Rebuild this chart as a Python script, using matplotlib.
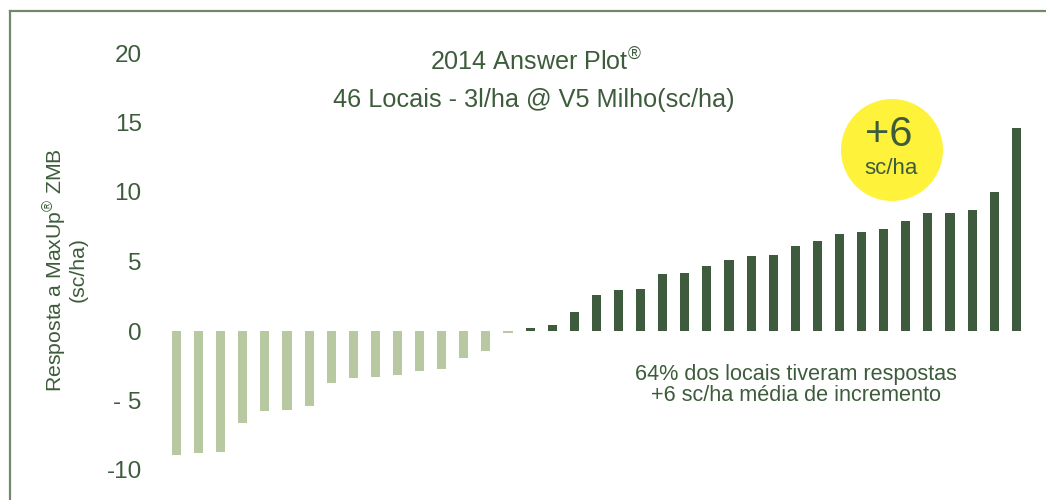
import matplotlib
matplotlib.use("Agg")
import matplotlib.pyplot as plt
from matplotlib.lines import Line2D
from matplotlib.patches import Ellipse

# responses per site (sc/ha), sorted
negatives = [-8.9, -8.8, -8.7, -6.6, -5.75, -5.7, -5.4, -3.75, -3.4, -3.3,
             -3.2, -2.9, -2.7, -1.95, -1.45, -0.15]
positives = [0.2, 0.43, 1.4, 2.56, 2.92, 3.02, 4.07, 4.15, 4.65, 5.08,
             5.4, 5.45, 6.14, 6.47, 6.95, 7.14, 7.36, 7.89, 8.47, 8.51,
             8.68, 10.0, 14.6]
yticks = [20, 15, 10, 5, 0, -5, -10]
ytick_labels = ["20", "15", "10", "5", "0", "- 5", "-10"]

DARK = "#3e5c3d"
LIGHT = "#b8c8a1"
TEXT = "#3d5c3b"
FRAME = "#71896a"
YELLOW = "#fef23b"

FONT = "Liberation Sans"
plt.rcParams["font.family"] = [FONT, "DejaVu Sans"]
plt.rcParams["mathtext.fontset"] = "custom"
plt.rcParams["mathtext.rm"] = FONT
plt.rcParams["mathtext.it"] = FONT
plt.rcParams["mathtext.bf"] = FONT

W, H = 1046, 500
fig = plt.figure(figsize=(W / 100, H / 100), dpi=100)
renderer = fig.canvas.get_renderer()


def fit(t, target, vertical=False):
    # scale the font so the text spans about `target` pixels
    bb = t.get_window_extent(renderer)
    size = bb.height if vertical else bb.width
    t.set_fontsize(t.get_fontsize() * target / size)
    return t


# axes placed so the bar grid lines up with the reference pixels
ax_left = 150
ax = fig.add_axes([ax_left / W, 0, 1 - ax_left / W, 1])
step, x0 = 22.1, 176.5
ax.set_xlim((ax_left - x0) / step, (W - x0) / step)
zero_px, unit = 331, 13.9
ax.set_ylim(-(H - zero_px) / unit, zero_px / unit)

vals = negatives + positives
cols = [LIGHT] * len(negatives) + [DARK] * len(positives)
ax.bar(range(len(vals)), vals, width=0.41, color=cols)

ax.set_yticks(yticks)
ax.set_yticklabels(ytick_labels, fontsize=17.5, color=TEXT)
ax.tick_params(axis="y", length=0, pad=6)
ax.set_xticks([])
for s in ax.spines.values():
    s.set_visible(False)
ax.patch.set_alpha(0)

# frame lines (top and left)
fig.add_artist(Line2D([10 / W, 10 / W], [0, 1 - 11 / H], color=FRAME, lw=1.6))
fig.add_artist(Line2D([10 / W, 1], [1 - 11 / H, 1 - 11 / H], color=FRAME, lw=1.6))

t1 = fig.text(536 / W, 1 - 62 / H, "2014 Answer Plot$^{®}$", ha="center", va="center",
              fontsize=16, color=TEXT)
fit(t1, 212)
t2 = fig.text(534 / W, 1 - 100 / H, "46 Locais - 3l/ha @ V5 Milho(sc/ha)", ha="center",
              va="center", fontsize=16, color=TEXT)
fit(t2, 402)

yl = fig.text(65 / W, 1 - 270 / H, "Resposta a MaxUp$^{®}$ ZMB\n(sc/ha)", rotation=90,
              ha="center", va="center", multialignment="center", fontsize=16,
              color=TEXT, linespacing=1.0)
fit(yl, 245, vertical=True)

note = fig.text(796 / W, 1 - 385 / H,
                "64% dos locais tiveram respostas\n+6 sc/ha média de incremento",
                ha="center", va="center", multialignment="center", fontsize=16,
                color=TEXT, linespacing=1.05)
fit(note, 322)

fig.add_artist(Ellipse((892 / W, 1 - 150 / H), 102 / W, 102 / H,
                       transform=fig.transFigure, color=YELLOW, lw=0))
fig.text(889 / W, 1 - 135 / H, "+6", ha="center", va="center", fontsize=30,
         color=TEXT)
fig.text(891 / W, 1 - 168 / H, "sc/ha", ha="center", va="center", fontsize=16,
         color=TEXT)

fig.savefig("out.png", dpi=100)
